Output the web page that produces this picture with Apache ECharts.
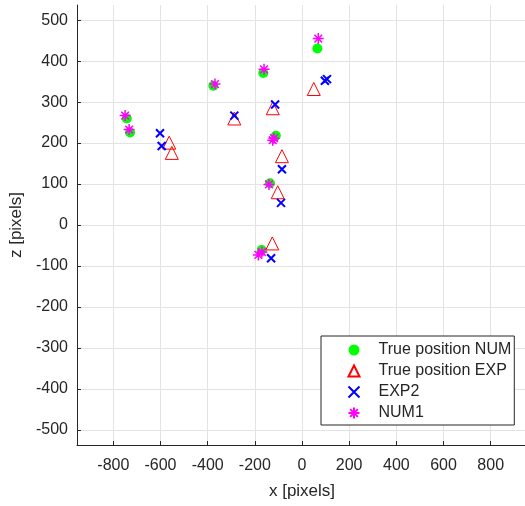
<!DOCTYPE html>
<html>
<head>
<meta charset="utf-8">
<script src="https://cdn.jsdelivr.net/npm/echarts@6/dist/echarts.min.js"></script>
<style>
  html, body { margin: 0; padding: 0; background: #fff; }
  #scatter_chart { width: 525px; height: 506px; }
</style>
</head>
<body>
<div id="scatter_chart"></div>
<script>
// [x, z] positions
var trueNum = [[65, 431], [-164, 371], [-376, 340], [-743, 260], [-729, 226], [-111, 218], [-136, 102], [-171, -61]];
var trueExp = [[-563, 201], [-552, 176], [-287, 260], [-124, 285], [50, 332], [-85, 168], [-103, 80], [-126, -45]];
var exp2 = [[-602, 224], [-595, 193], [-287, 267], [-114, 294], [97, 352], [106, 356], [-85, 136], [-89, 54], [-131, -81]];
var num1 = [[69, 455], [-161, 380], [-369, 344], [-750, 267], [-733, 233], [-124, 207], [-119, 212], [-140, 99], [-185, -73], [-170, -66]];

var xTicks = [-800, -600, -400, -200, 0, 200, 400, 600, 800];
var yTicks = [-500, -400, -300, -200, -100, 0, 100, 200, 300, 400, 500];

(function () {
    var font = 'Liberation Sans, Arial, sans-serif';
    var chart = echarts.init(document.querySelector('#scatter_chart'));
    var option = {
        animation: false,
        grid: {
            left: 77,
            top: 5,
            right: -2,
            bottom: 61,
            outerBoundsMode: 'none'
        },
        legend: {
            orient: 'vertical',
            left: 321,
            top: 336,
            backgroundColor: '#fff',
            borderColor: '#262626',
            borderWidth: 1,
            borderRadius: 0,
            padding: [6, 3, 4, 25],
            itemWidth: 11,
            itemHeight: 11,
            itemGap: 5,
            textStyle: {
                fontFamily: font,
                fontSize: 16,
                color: '#262626',
                padding: [0, 0, 0, 14]
            },
            data: ['True position NUM', 'True position EXP', 'EXP2', 'NUM1']
        },
        xAxis: {
            type: 'value',
            min: -954,
            max: 954,
            name: 'x [pixels]',
            nameLocation: 'middle',
            nameGap: 38,
            nameTextStyle: { fontFamily: font, fontSize: 17, color: '#262626' },
            axisLine: { show: true, onZero: false, lineStyle: { color: '#262626' } },
            axisTick: { show: true, inside: true, length: 4, customValues: xTicks, lineStyle: { color: '#262626' } },
            axisLabel: { customValues: xTicks, margin: 13, fontFamily: font, fontSize: 16, color: '#262626' },
            splitLine: { show: true, lineStyle: { color: '#e3e3e3' } }
        },
        yAxis: {
            type: 'value',
            min: -537,
            max: 537,
            name: 'z [pixels]',
            nameLocation: 'middle',
            nameGap: 50,
            nameTextStyle: { fontFamily: font, fontSize: 17, color: '#262626' },
            axisLine: { show: true, onZero: false, lineStyle: { color: '#262626' } },
            axisTick: { show: true, inside: true, length: 4, customValues: yTicks, lineStyle: { color: '#262626' } },
            axisLabel: { customValues: yTicks, margin: 9, fontFamily: font, fontSize: 16, color: '#262626' },
            splitLine: { show: true, lineStyle: { color: '#e3e3e3' } }
        },
        series: [
            {
                name: 'True position NUM',
                type: 'scatter',
                symbol: 'circle',
                symbolSize: 10,
                itemStyle: { color: '#00ff00', opacity: 1 },
                data: trueNum
            },
            {
                name: 'True position EXP',
                type: 'scatter',
                symbol: 'triangle',
                symbolSize: 13,
                itemStyle: { color: 'none', borderColor: '#ff0000', borderWidth: 1, opacity: 1 },
                data: trueExp
            },
            {
                name: 'EXP2',
                type: 'scatter',
                symbol: 'path://M0,0L10,10M10,0L0,10',
                symbolSize: 8,
                itemStyle: { color: 'none', borderColor: '#0000ff', borderWidth: 2, opacity: 1 },
                data: exp2
            },
            {
                name: 'NUM1',
                type: 'scatter',
                symbol: 'path://M5,0L5,10M0,5L10,5M1.5,1.5L8.5,8.5M8.5,1.5L1.5,8.5',
                symbolSize: 11,
                itemStyle: { color: 'none', borderColor: '#ff00ff', borderWidth: 1.5, opacity: 1 },
                data: num1
            }
        ]
    };
    chart.setOption(option);
}());
</script>
</body>
</html>
